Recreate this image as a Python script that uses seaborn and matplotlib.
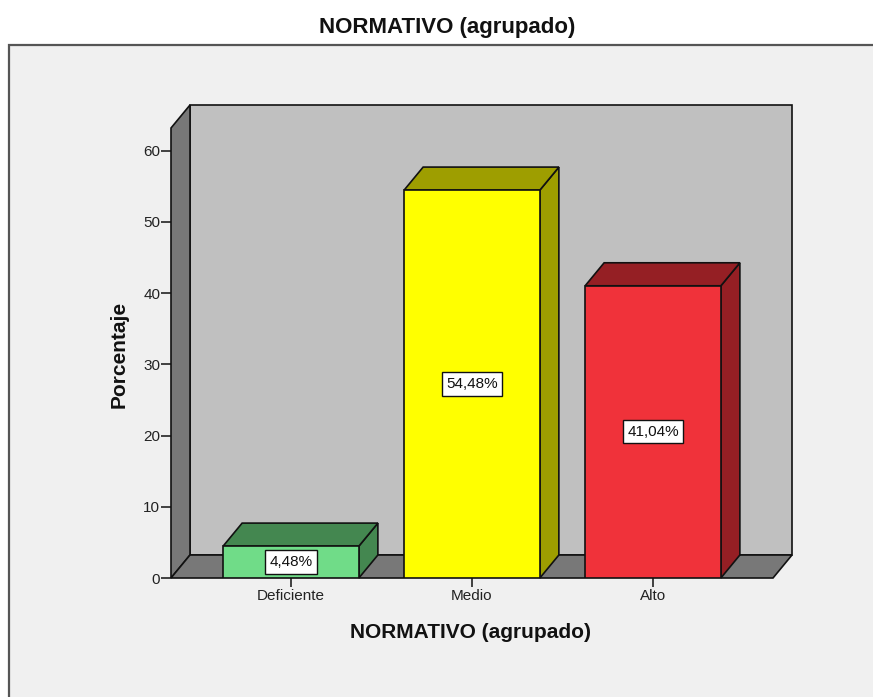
import matplotlib
matplotlib.use("Agg")
import matplotlib.pyplot as plt
import seaborn as sns
import pandas as pd
from matplotlib.patches import Polygon, Rectangle

# ---- data ----
categories = ["Deficiente", "Medio", "Alto"]
percentages = [4.48, 54.48, 41.04]
value_labels = ["4,48%", "54,48%", "41,04%"]
y_ticks = [0, 10, 20, 30, 40, 50, 60]
title = "NORMATIVO (agrupado)"
x_title = "NORMATIVO (agrupado)"
y_title = "Porcentaje"

# ---- styles ----
front_colors = ["#70dc88", "#ffff00", "#f0323a"]
dark_colors = ["#448750", "#9e9e00", "#951f24"]
wall_color = "#c0c0c0"
side_color = "#787878"
bg_color = "#f0f0f0"

sns.set_theme(style="white")
plt.rcParams["font.family"] = ["Liberation Sans", "DejaVu Sans"]

W, H = 873, 697
fig = plt.figure(figsize=(W / 100, H / 100), dpi=100)
fig.patch.set_facecolor("white")

# outer frame
fig.add_artist(Rectangle((9 / W, -0.05), 1.2, 1 - 45 / H + 0.05,
                         transform=fig.transFigure, facecolor=bg_color,
                         edgecolor="#555555", linewidth=1.6, zorder=0))

# axes = front plane
left_px, right_px, top_px, bottom_px = 171, 773, 128, 578
ax = fig.add_axes([left_px / W, 1 - bottom_px / H,
                   (right_px - left_px) / W, (bottom_px - top_px) / H])
ax.set_facecolor("none")

df = pd.DataFrame({"cat": categories, "pct": percentages})
sns.barplot(data=df, x="cat", y="pct", hue="cat", palette=front_colors,
            width=0.75, saturation=1, edgecolor="#111111", linewidth=1.2,
            legend=False, ax=ax, zorder=5)

x0, x1 = -0.663, 2.663
ytop = 63.2
ax.set_xlim(x0, x1)
ax.set_ylim(0, ytop)

# depth offsets in data units
ddx_px, ddy_px = 19, 23
dx = ddx_px * (x1 - x0) / (right_px - left_px)
dy = ddy_px * ytop / (bottom_px - top_px)

kw = dict(edgecolor="#111111", linewidth=1.2, clip_on=False, joinstyle="miter")
# back wall
ax.add_patch(Polygon([(x0 + dx, dy), (x1 + dx, dy), (x1 + dx, ytop + dy), (x0 + dx, ytop + dy)],
                     facecolor=wall_color, zorder=1, **kw))
# left side wall
ax.add_patch(Polygon([(x0, 0), (x0 + dx, dy), (x0 + dx, ytop + dy), (x0, ytop)],
                     facecolor=side_color, zorder=2, **kw))
# floor
ax.add_patch(Polygon([(x0, 0), (x1, 0), (x1 + dx, dy), (x0 + dx, dy)],
                     facecolor=side_color, zorder=2, **kw))

# bar tops and sides
bars = [q for q in ax.patches if isinstance(q, Rectangle)]
for p in bars:
    bx, bw, bh = p.get_x(), p.get_width(), p.get_height()
    idx = int(round(bx + bw / 2))
    c = dark_colors[idx]
    ax.add_patch(Polygon([(bx + bw, 0), (bx + bw + dx, dy), (bx + bw + dx, bh + dy), (bx + bw, bh)],
                         facecolor=c, zorder=4, **kw))
    ax.add_patch(Polygon([(bx, bh), (bx + dx, bh + dy), (bx + bw + dx, bh + dy), (bx + bw, bh)],
                         facecolor=c, zorder=4, **kw))
    ax.text(bx + bw / 2, bh / 2, value_labels[idx], ha="center", va="center",
            fontsize=11, color="#111111", zorder=7,
            bbox=dict(boxstyle="square,pad=0.3", facecolor="white",
                      edgecolor="#111111", linewidth=1.0))

for s in ax.spines.values():
    s.set_visible(False)

ax.set_yticks(y_ticks)
ax.set_yticklabels([str(t) for t in y_ticks])
ax.tick_params(axis="y", length=7, width=1.3, color="#333333", pad=0.8,
               labelsize=11, labelcolor="#222222", left=True)
ax.tick_params(axis="x", length=6.5, width=1.3, color="#333333", pad=1.5,
               labelsize=11, labelcolor="#222222", bottom=True)
ax.set_xlabel("")
ax.set_ylabel("")

fig.text(447 / W, 1 - 28 / H, title, ha="center", va="center",
         fontsize=16, fontweight="bold", color="#111111")
fig.text(471 / W, 1 - 632 / H, x_title, ha="center", va="center",
         fontsize=15, fontweight="bold", color="#111111")
fig.text(119 / W, 1 - 354 / H, y_title, ha="center", va="center",
         rotation=90, fontsize=15, fontweight="bold", color="#111111")

fig.savefig("out.png", dpi=100)
